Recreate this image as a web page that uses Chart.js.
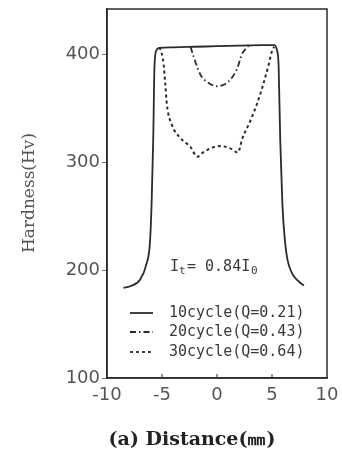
<!DOCTYPE html>
<html>
<head>
<meta charset="utf-8">
<script src="https://cdn.jsdelivr.net/npm/chart.js@4.4.1/dist/chart.umd.min.js"></script>
<style>
  html, body { margin: 0; padding: 0; background: #fff; }
  #chart { display: block; }
</style>
</head>
<body>
<canvas id="chart" width="342" height="450"></canvas>
<script>
// Data (distance in mm, hardness in Hv)
const solidX = [-8.5, -7.9, -7.0, -6.4, -6.1, -5.95, -5.8, -5.68, -5.5, -5.2, -4, -2, 0, 2, 4, 5.2, 5.45, 5.6, 5.75, 5.95, 6.2, 6.4, 6.8, 7.4, 7.9];
const solidY = [183.5, 185, 191, 206, 225, 260, 320, 390, 404, 406, 406.5, 407, 407.5, 408, 408.5, 408.5, 404, 390, 320, 260, 225, 210, 197.5, 189.7, 185.6];

const dashDotX = [-2.4, -2.1, -1.5, -0.76, 0, 1.06, 1.8, 2.27, 2.87];
const dashDotY = [407, 397, 381, 373.5, 370.4, 375, 386, 400, 408];

const dashedX = [-5.3, -5.15, -4.85, -4.7, -4.55, -4.1, -3.3, -2.4, -1.8, -1.2, -0.3, 0.3, 1.2, 1.9, 2.3, 3.0, 3.6, 4.2, 4.7, 5.0, 5.2];
const dashedY = [406, 404.7, 390.6, 372, 353, 334.6, 322, 314, 305, 309.6, 314, 315, 312.8, 309, 322, 337.7, 353, 372, 390.6, 403, 407];

const xTicks = [-10, -5, 0, 5, 10];
const yTicks = [100, 200, 300, 400];

const seriesLabels = ['10cycle(Q=0.21)', '20cycle(Q=0.43)', '30cycle(Q=0.64)'];
const seriesDash = [[], [6, 3, 1.5, 3], [3, 3]];

const ink = '#2b2b2b';

function toPoints(xs, ys) {
  return xs.map((x, i) => ({ x, y: ys[i] }));
}

// Frame, inner ticks, legend, titles and annotation
const decorPlugin = {
  id: 'decor',
  afterDraw(chart) {
    const { ctx, chartArea: a, scales } = chart;
    ctx.save();
    ctx.strokeStyle = ink;
    ctx.lineWidth = 1.5;
    ctx.strokeRect(a.left, a.top, a.right - a.left, a.bottom - a.top);

    // small inner ticks on x axis
    ctx.lineWidth = 1;
    [-5, 0, 5].forEach(v => {
      const px = scales.x.getPixelForValue(v);
      ctx.beginPath();
      ctx.moveTo(px, a.bottom);
      ctx.lineTo(px, a.bottom - 4);
      ctx.stroke();
    });

    // legend
    const mono = '"DejaVu Sans Mono", monospace';
    ctx.font = '15px ' + mono;
    ctx.fillStyle = '#3a3a3a';
    ctx.textBaseline = 'middle';
    const rows = [313, 332, 352];
    seriesLabels.forEach((label, i) => {
      ctx.setLineDash(seriesDash[i]);
      ctx.lineWidth = 1.8;
      ctx.beginPath();
      ctx.moveTo(130, rows[i]);
      ctx.lineTo(153, rows[i]);
      ctx.stroke();
      ctx.setLineDash([]);
      ctx.fillText(label, 169, rows[i]);
    });

    // It = 0.84 I0
    const ix = 170;
    const iy = 267;
    ctx.font = '15px ' + mono;
    ctx.fillText('I', ix, iy);
    ctx.font = '11px ' + mono;
    ctx.fillText('t', ix + 9, iy + 4);
    ctx.font = '15px ' + mono;
    ctx.fillText('= 0.84I', ix + 17, iy);
    ctx.font = '11px ' + mono;
    ctx.fillText('0', ix + 81, iy + 4);

    // axis titles
    ctx.fillStyle = '#555';
    ctx.textAlign = 'center';
    ctx.font = '17px "DejaVu Serif", serif';
    ctx.save();
    ctx.translate(30, 193);
    ctx.rotate(-Math.PI / 2);
    ctx.fillText('Hardness(Hv)', 0, 0);
    ctx.restore();

    ctx.fillStyle = '#222';
    ctx.font = 'bold 19px "DejaVu Serif", serif';
    ctx.fillText('(a) Distance(㎜)', 192, 440);
    ctx.restore();
  }
};

new Chart(document.getElementById('chart'), {
  type: 'scatter',
  data: {
    datasets: [
      { label: seriesLabels[0], data: toPoints(solidX, solidY), borderDash: seriesDash[0], borderWidth: 1.8 },
      { label: seriesLabels[1], data: toPoints(dashDotX, dashDotY), borderDash: seriesDash[1], borderWidth: 1.8 },
      { label: seriesLabels[2], data: toPoints(dashedX, dashedY), borderDash: seriesDash[2], borderWidth: 2 }
    ].map(ds => Object.assign(ds, {
      showLine: true,
      borderColor: ink,
      pointRadius: 0,
      cubicInterpolationMode: 'monotone',
      fill: false
    }))
  },
  options: {
    responsive: false,
    animation: false,
    layout: { padding: { top: 9, right: 15, left: 0, bottom: 0 } },
    plugins: { legend: { display: false }, tooltip: { enabled: false } },
    scales: {
      x: {
        type: 'linear',
        min: -10,
        max: 10,
        afterBuildTicks: s => { s.ticks = xTicks.map(v => ({ value: v })); },
        afterFit: s => { s.height = 72; s.paddingLeft = 0; s.paddingRight = 0; },
        grid: { drawOnChartArea: false, drawTicks: false },
        border: { color: ink, width: 1.5 },
        ticks: { color: '#555', font: { size: 18, family: 'DejaVu Sans' }, padding: 7, maxRotation: 0 }
      },
      y: {
        type: 'linear',
        min: 100,
        max: 442,
        afterBuildTicks: s => { s.ticks = yTicks.map(v => ({ value: v })); },
        afterFit: s => { s.width = 107; s.paddingTop = 0; s.paddingBottom = 0; },
        grid: { drawOnChartArea: false, drawTicks: true, tickLength: 5, color: '#777' },
        border: { color: ink, width: 1.5 },
        ticks: { color: '#555', font: { size: 18, family: 'DejaVu Sans' }, padding: 2 }
      }
    }
  },
  plugins: [decorPlugin]
});
</script>
</body>
</html>
